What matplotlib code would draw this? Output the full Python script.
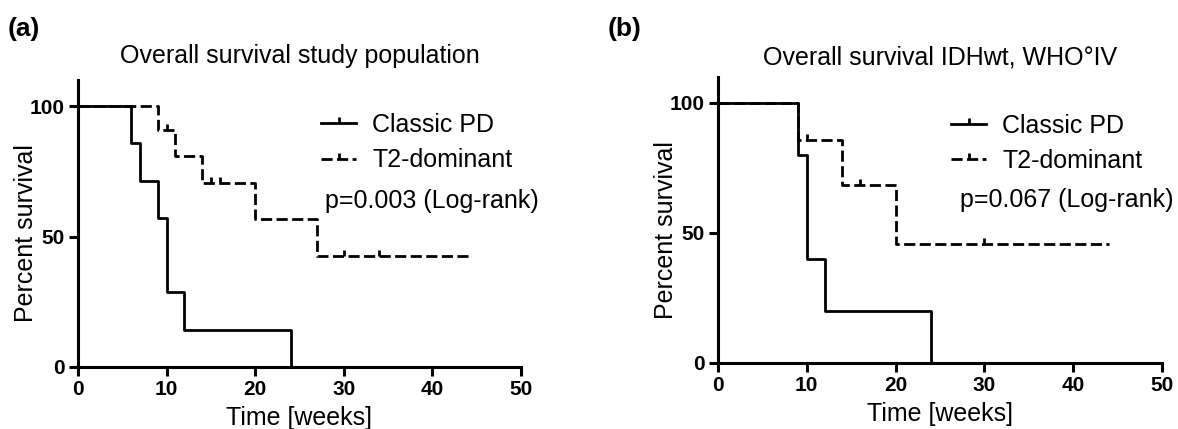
import matplotlib
matplotlib.use('Agg')
import matplotlib.pyplot as plt
from matplotlib.path import Path
from matplotlib.lines import Line2D

# (a) overall survival, study population
a_classic_t = [0, 6, 7, 9, 10, 12, 24]
a_classic_s = [100, 85.7, 71.4, 57.1, 28.6, 14.3, 0]
a_t2_t = [0, 9, 11, 14, 20, 27, 44]
a_t2_s = [100, 90.9, 80.8, 70.7, 56.6, 42.4, 42.4]
a_cens_t = [10, 15, 16, 30, 34]
a_cens_s = [90.9, 70.7, 70.7, 42.4, 42.4]

# (b) overall survival, IDHwt WHO grade IV
b_classic_t = [0, 9, 10, 12, 24]
b_classic_s = [100, 80, 40, 20, 0]
b_t2_t = [0, 9, 14, 20, 44]
b_t2_s = [100, 85.7, 68.6, 45.7, 45.7]
b_cens_t = [10, 16, 30]
b_cens_s = [85.7, 68.6, 45.7]

x_ticks = [0, 10, 20, 30, 40, 50]
y_ticks = [0, 50, 100]
series_labels = ['Classic PD', 'T2-dominant']

plt.rcParams['font.family'] = ['Liberation Sans', 'DejaVu Sans']

LW = 2.0
DASH = (0, (4, 1.6))
tick_marker = Path([(0, 0), (0, 1)], [Path.MOVETO, Path.LINETO])

fig = plt.figure(figsize=(11.78, 4.29), dpi=100)


def km_panel(rect, tag, tag_x, title, title_pad, ct, cs, tt, ts, cens_t, cens_s,
             pval, leg_x, leg_y, p_x, p_y):
    ax = fig.add_axes(rect)
    ax.step(tt, ts, where='post', color='black', lw=LW, linestyle=DASH, zorder=2)
    ax.plot(cens_t, cens_s, linestyle='none', marker=tick_marker, ms=9,
            mec='black', mew=LW, zorder=3)
    ax.step(ct, cs, where='post', color='black', lw=LW, zorder=4)

    ax.set_xlim(0, 50)
    ax.set_ylim(0, 110)
    ax.set_xticks(x_ticks)
    ax.set_yticks(y_ticks)
    for s in ['top', 'right']:
        ax.spines[s].set_visible(False)
    for s in ['left', 'bottom']:
        ax.spines[s].set_linewidth(2.2)
    ax.tick_params(length=6.5, width=2.2, pad=3, labelsize=15)
    for lab in ax.get_xticklabels() + ax.get_yticklabels():
        lab.set_fontweight('bold')

    ax.set_xlabel('Time [weeks]', fontsize=18, va='top')
    ax.xaxis.set_label_coords(0.5, -0.135)
    ax.set_ylabel('Percent survival', fontsize=18)
    ax.yaxis.set_label_coords(-0.09, 0.465)
    ax.set_title(title, fontsize=18, pad=title_pad)

    handles = [
        Line2D([], [], color='black', lw=LW, marker=tick_marker, ms=9, mew=LW),
        Line2D([], [], color='black', lw=LW, linestyle=DASH, marker=tick_marker, ms=9, mew=LW),
    ]
    ax.legend(handles, series_labels, loc='upper left', bbox_to_anchor=(leg_x, leg_y),
              frameon=False, fontsize=18, handlelength=1.4, handletextpad=0.65,
              labelspacing=0.45, borderpad=0, borderaxespad=0, numpoints=1)
    ax.text(p_x, p_y, pval, transform=ax.transAxes, fontsize=18, va='center', ha='left')

    fig.text(tag_x, 0.932, tag, fontsize=19, fontweight='bold', va='center', ha='left')
    return ax


km_panel([78 / 1178, 62 / 429, 443 / 1178, 287 / 429], '(a)', 8 / 1178,
         'Overall survival study population', 12,
         a_classic_t, a_classic_s, a_t2_t, a_t2_s, a_cens_t, a_cens_s,
         'p=0.003 (Log-rank)', 0.549, 0.885, 0.558, 0.58)

km_panel([718 / 1178, 66 / 429, 444 / 1178, 286 / 429], '(b)', 608 / 1178,
         'Overall survival IDHwt, WHO°IV', 9,
         b_classic_t, b_classic_s, b_t2_t, b_t2_s, b_cens_t, b_cens_s,
         'p=0.067 (Log-rank)', 0.525, 0.872, 0.545, 0.57)

fig.savefig('out.png', dpi=100)
